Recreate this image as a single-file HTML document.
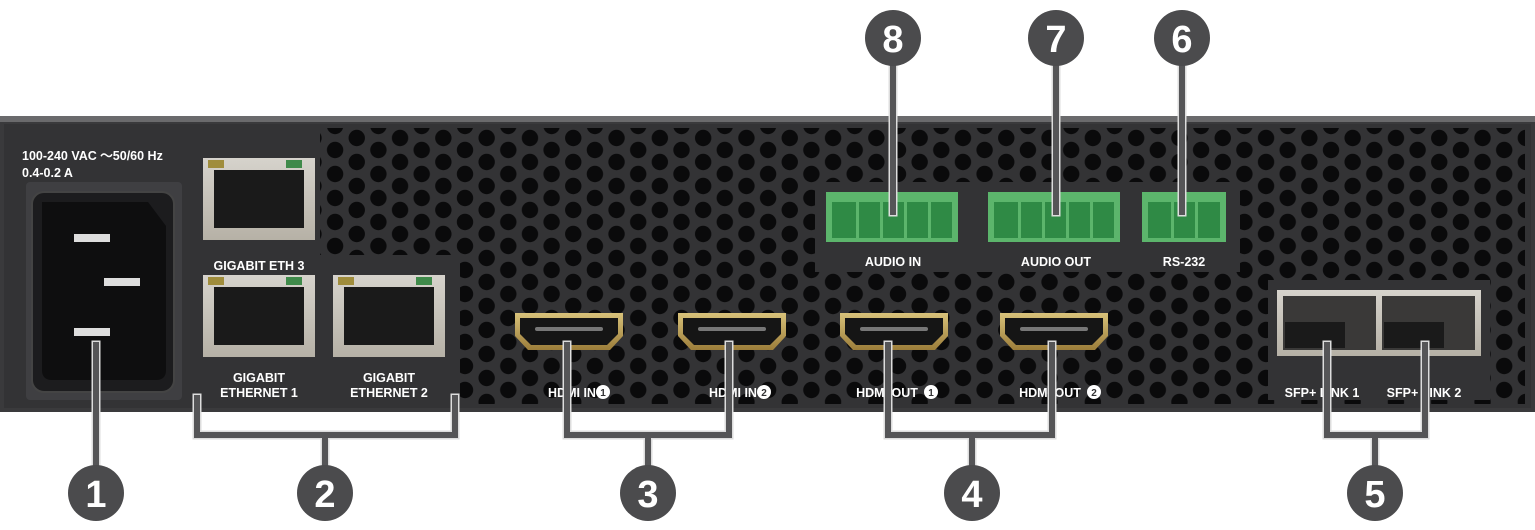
<!DOCTYPE html>
<html><head><meta charset="utf-8"><style>
html,body{margin:0;padding:0;background:#fff;}
svg{display:block;font-family:"Liberation Sans",sans-serif;}
</style></head><body>
<svg width="1535" height="530" viewBox="0 0 1535 530" xmlns="http://www.w3.org/2000/svg">
<defs>
<pattern id="holes" x="465" y="150" width="43.3" height="24" patternUnits="userSpaceOnUse">
<circle cx="0" cy="0" r="8.2" fill="#0a0a0b"/>
<circle cx="43.3" cy="0" r="8.2" fill="#0a0a0b"/>
<circle cx="0" cy="24" r="8.2" fill="#0a0a0b"/>
<circle cx="43.3" cy="24" r="8.2" fill="#0a0a0b"/>
<circle cx="21.65" cy="12" r="8.2" fill="#0a0a0b"/>
</pattern>
<linearGradient id="gold" x1="0" y1="0" x2="0" y2="1"><stop offset="0" stop-color="#d8c27a"/><stop offset="1" stop-color="#9c7d3a"/></linearGradient>
<linearGradient id="silver" x1="0" y1="0" x2="0" y2="1"><stop offset="0" stop-color="#d6d3cc"/><stop offset="1" stop-color="#b6b1a6"/></linearGradient>
</defs>
<rect x="0" y="116" width="1535" height="296" fill="#3a3a3c"/>
<rect x="0" y="116" width="1535" height="6" fill="#6a6a6c"/>
<rect x="4" y="124" width="1527" height="284" fill="#333335"/>
<rect x="320" y="128" width="1205" height="276" fill="url(#holes)"/>
<rect x="4" y="124" width="316" height="284" fill="#333335"/>
<rect x="320" y="255" width="140" height="150" fill="#333335"/>
<rect x="815" y="182" width="425" height="90" fill="#333335"/>
<rect x="1268" y="280" width="222" height="120" fill="#333335"/>
<text x="22" y="160" fill="#fff" font-size="12.5" font-weight="bold">100-240 VAC ～50/60 Hz</text>
<text x="22" y="177" fill="#fff" font-size="12.5" font-weight="bold">0.4-0.2 A</text>
<rect x="26" y="182" width="156" height="218" rx="4" fill="#3f3f42"/>
<rect x="32" y="192" width="142" height="200" rx="12" fill="#1c1c1e" stroke="#444" stroke-width="2"/>
<path d="M42 202 H148 L166 226 V370 Q166 380 156 380 H52 Q42 380 42 370 Z" fill="#0e0e0f"/>
<rect x="74" y="234" width="36" height="8" fill="#ddd"/>
<rect x="104" y="278" width="36" height="8" fill="#ddd"/>
<rect x="74" y="328" width="36" height="8" fill="#ddd"/>
<g>
<rect x="203" y="158" width="112" height="82" fill="url(#silver)"/><rect x="214" y="170" width="90" height="58" fill="#1a1a1a"/><rect x="208" y="160" width="16" height="8" fill="#a08d3c"/><rect x="286" y="160" width="16" height="8" fill="#3f8a4a"/>
<rect x="203" y="275" width="112" height="82" fill="url(#silver)"/><rect x="214" y="287" width="90" height="58" fill="#1a1a1a"/><rect x="208" y="277" width="16" height="8" fill="#a08d3c"/><rect x="286" y="277" width="16" height="8" fill="#3f8a4a"/>
<rect x="333" y="275" width="112" height="82" fill="url(#silver)"/><rect x="344" y="287" width="90" height="58" fill="#1a1a1a"/><rect x="338" y="277" width="16" height="8" fill="#a08d3c"/><rect x="416" y="277" width="16" height="8" fill="#3f8a4a"/>
</g>
<g fill="#fff" font-size="12.5" font-weight="bold" text-anchor="middle">
<text x="259" y="270">GIGABIT ETH 3</text>
<text x="259" y="382">GIGABIT</text><text x="259" y="397">ETHERNET 1</text>
<text x="389" y="382">GIGABIT</text><text x="389" y="397">ETHERNET 2</text>
<text x="572" y="397">HDMI IN</text><text x="733" y="397">HDMI IN</text>
<text x="887" y="397">HDMI OUT</text><text x="1050" y="397">HDMI OUT</text>
<text x="893" y="266">AUDIO IN</text><text x="1056" y="266">AUDIO OUT</text><text x="1184" y="266">RS-232</text>
<text x="1322" y="397">SFP+ LINK 1</text><text x="1424" y="397">SFP+ LINK 2</text>
</g>
<g fill="#fff"><circle cx="603" cy="392" r="7"/><circle cx="764" cy="392" r="7"/><circle cx="931" cy="392" r="7"/><circle cx="1094" cy="392" r="7"/></g>
<g fill="#333335" font-size="10" font-weight="bold" text-anchor="middle"><text x="603" y="396">1</text><text x="764" y="396">2</text><text x="931" y="396">1</text><text x="1094" y="396">2</text></g>
<g id="h">
<path d="M515 313 H623 V336 L610 350 H528 L515 336 Z" fill="url(#gold)"/>
<path d="M520 318 H618 V334 L607 345 H531 L520 334 Z" fill="#151515"/>
<rect x="535" y="327" width="68" height="4" rx="2" fill="#777"/>
</g>
<use href="#h" x="163"/><use href="#h" x="325"/><use href="#h" x="485"/>
<g>
<rect x="826" y="192" width="132" height="50" fill="#5cb56c"/><rect x="832" y="202" width="120" height="36" fill="#2f8a45"/>
<rect x="988" y="192" width="132" height="50" fill="#5cb56c"/><rect x="994" y="202" width="120" height="36" fill="#2f8a45"/>
<rect x="1142" y="192" width="84" height="50" fill="#5cb56c"/><rect x="1148" y="202" width="72" height="36" fill="#2f8a45"/>
</g>
<g fill="#5cb56c">
<rect x="856" y="200" width="3" height="40"/><rect x="880" y="200" width="3" height="40"/><rect x="904" y="200" width="3" height="40"/><rect x="928" y="200" width="3" height="40"/>
<rect x="1018" y="200" width="3" height="40"/><rect x="1042" y="200" width="3" height="40"/><rect x="1066" y="200" width="3" height="40"/><rect x="1090" y="200" width="3" height="40"/>
<rect x="1171" y="200" width="3" height="40"/><rect x="1195" y="200" width="3" height="40"/>
</g>
<rect x="1277" y="290" width="204" height="66" fill="url(#silver)"/>
<rect x="1283" y="296" width="93" height="54" fill="#3a3938"/><rect x="1382" y="296" width="93" height="54" fill="#3a3938"/>
<rect x="1285" y="322" width="60" height="26" fill="#1a1a1a"/><rect x="1384" y="322" width="60" height="26" fill="#1a1a1a"/>
<g fill="none" stroke-linecap="square" stroke-linejoin="miter">
<g stroke="#ddd" stroke-width="9">
<path d="M96 345 V470"/><path d="M197 398 V435 H455 V398 M325 435 V470"/>
<path d="M567 345 V435 H729 V345 M648 435 V470"/>
<path d="M888 345 V435 H1052 V345 M972 435 V470"/>
<path d="M1327 345 V435 H1425 V345 M1375 435 V470"/>
<path d="M893 60 V212"/><path d="M1056 60 V212"/><path d="M1182 60 V212"/>
</g>
<g stroke="#555557" stroke-width="6">
<path d="M96 345 V470"/><path d="M197 398 V435 H455 V398 M325 435 V470"/>
<path d="M567 345 V435 H729 V345 M648 435 V470"/>
<path d="M888 345 V435 H1052 V345 M972 435 V470"/>
<path d="M1327 345 V435 H1425 V345 M1375 435 V470"/>
<path d="M893 60 V212"/><path d="M1056 60 V212"/><path d="M1182 60 V212"/>
</g>
</g>
<g fill="#4b4b4d">
<circle cx="96" cy="493" r="28"/><circle cx="325" cy="493" r="28"/><circle cx="648" cy="493" r="28"/><circle cx="972" cy="493" r="28"/><circle cx="1375" cy="493" r="28"/>
<circle cx="893" cy="38" r="28"/><circle cx="1056" cy="38" r="28"/><circle cx="1182" cy="38" r="28"/>
</g>
<g fill="#fff" font-size="38" font-weight="bold" text-anchor="middle">
<text x="96" y="507">1</text><text x="325" y="507">2</text><text x="648" y="507">3</text><text x="972" y="507">4</text><text x="1375" y="507">5</text>
<text x="893" y="52">8</text><text x="1056" y="52">7</text><text x="1182" y="52">6</text>
</g>
</svg>
</body></html>
